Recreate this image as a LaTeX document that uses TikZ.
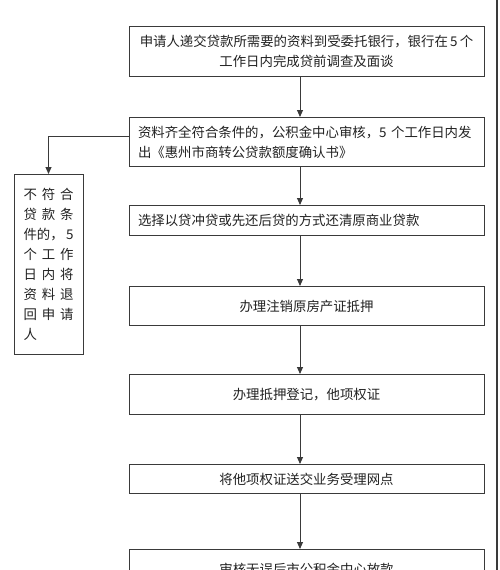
\documentclass[tikz,border=0pt]{standalone}
\usepackage{fontspec}
\setmainfont{Noto Sans CJK SC}
\usetikzlibrary{arrows.meta}
\definecolor{Ink}{HTML}{222222}
\definecolor{Frame}{HTML}{3A3A3A}
\newcommand\gridrow[1]{\makebox[50pt][s]{#1}}

\begin{document}
\begin{tikzpicture}[x=1pt,y=-1pt,
  stage/.style={draw=Frame,line width=0.9pt,minimum width=355pt,text width=337pt,inner xsep=9pt,inner ysep=0pt,anchor=north,text=Ink,font=\fontsize{13.4}{20}\selectfont},
  sidebox/.style={draw=Frame,line width=0.9pt,minimum width=69pt,minimum height=180pt,text width=50pt,inner sep=0pt,anchor=north,align=left,text=Ink,font=\fontsize{13.4}{20}\selectfont},
  flow/.style={draw=Frame,line width=0.9pt,-{Triangle[length=7pt,width=6pt]}}
]
\clip (0,0) rectangle (500,570);
\fill[white] (0,0) rectangle (500,570);
\draw[Frame,line width=1.5pt] (497,0) -- (497,570);
% main column
\node[stage,minimum height=50pt,text width=347pt,inner xsep=4pt,align=center] (apply) at (306.5,26) {申请人递交贷款所需要的资料到受委托银行，银行在\,5\,个\\工作日内完成贷前调查及面谈};
\node[stage,minimum height=49pt,align=left] (review) at (306.5,117) {资料齐全符合条件的，公积金中心审核，5 个工作日内发\\出《惠州市商转公贷款额度确认书》};
\node[stage,minimum height=30pt,align=left] (repay) at (306.5,205) {选择以贷冲贷或先还后贷的方式还清原商业贷款};
\node[stage,minimum height=39pt,align=center] (cancel) at (306.5,286) {办理注销原房产证抵押};
\node[stage,minimum height=40pt,align=center] (register) at (306.5,374) {办理抵押登记，他项权证};
\node[stage,minimum height=29pt,align=center] (deliver) at (306.5,464) {将他项权证送交业务受理网点};
\node[stage,minimum height=40pt,align=center] (lend) at (306.5,549) {审核无误后市公积金中心放款};
% rejected branch
\node[sidebox] (reject) at (48.5,174) {\gridrow{不\hfil 符\hfil 合}\\\gridrow{贷\hfil 款\hfil 条}\\\gridrow{件的，\hfil 5}\\\gridrow{个\hfil 工\hfil 作}\\\gridrow{日\hfil 内\hfil 将}\\\gridrow{资\hfil 料\hfil 退}\\\gridrow{回\hfil 申\hfil 请}\\人};
% connectors
\coordinate (spine) at (300,0);
\coordinate (fork) at (0,136);
\draw[flow] (apply.south -| spine) -- (review.north -| spine);
\draw[flow] (review.south -| spine) -- (repay.north -| spine);
\draw[flow] (repay.south -| spine) -- (cancel.north -| spine);
\draw[flow] (cancel.south -| spine) -- (register.north -| spine);
\draw[flow] (register.south -| spine) -- (deliver.north -| spine);
\draw[flow] (deliver.south -| spine) -- (lend.north -| spine);
\draw[flow] (review.west |- fork) -| (reject.north);
\end{tikzpicture}
\end{document}
